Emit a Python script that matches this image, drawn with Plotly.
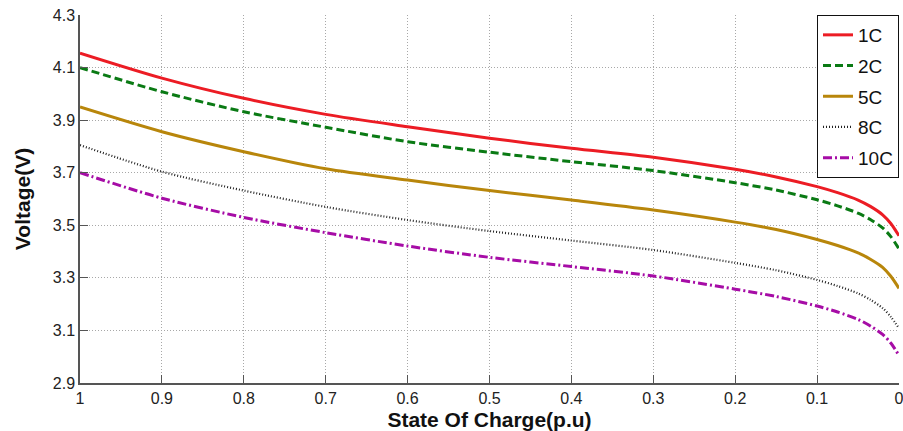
import plotly.graph_objects as go

# State of charge sample points (p.u.), discharging from full (1) to empty (0)
soc = [1.0, 0.9, 0.8, 0.7, 0.6, 0.5, 0.4, 0.3, 0.2, 0.15, 0.1, 0.075, 0.05, 0.035, 0.02, 0.01, 0.0]

# Terminal voltage (V) for each discharge rate
v_1c = [4.155, 4.06, 3.983, 3.922, 3.875, 3.831, 3.793, 3.759, 3.713, 3.684, 3.647, 3.624, 3.596, 3.572, 3.54, 3.507, 3.46]
v_2c = [4.10, 4.008, 3.932, 3.873, 3.818, 3.778, 3.742, 3.708, 3.662, 3.634, 3.597, 3.574, 3.546, 3.522, 3.49, 3.457, 3.41]
v_5c = [3.95, 3.856, 3.78, 3.715, 3.672, 3.632, 3.596, 3.558, 3.512, 3.484, 3.446, 3.423, 3.395, 3.371, 3.34, 3.306, 3.26]
v_8c = [3.805, 3.704, 3.632, 3.57, 3.52, 3.478, 3.442, 3.406, 3.357, 3.329, 3.292, 3.269, 3.241, 3.217, 3.185, 3.152, 3.108]
v_10c = [3.70, 3.603, 3.53, 3.472, 3.421, 3.378, 3.343, 3.307, 3.257, 3.229, 3.193, 3.17, 3.142, 3.117, 3.085, 3.052, 3.005]

series_names = ["1C", "2C", "5C", "8C", "10C"]
series_values = [v_1c, v_2c, v_5c, v_8c, v_10c]
series_colors = ["#ec1c24", "#0a7a14", "#b8860b", "#222222", "#a60ca6"]
series_dash = ["solid", "8px,4px", "solid", "1px,2px", "9px,3px,2px,3px"]
series_width = [3, 3, 3, 2.2, 3]

y_ticks = [2.9, 3.1, 3.3, 3.5, 3.7, 3.9, 4.1, 4.3]
x_ticks = [1, 0.9, 0.8, 0.7, 0.6, 0.5, 0.4, 0.3, 0.2, 0.1, 0]

fig = go.Figure()
for name, vals, color, dash, width in zip(series_names, series_values,
                                         series_colors, series_dash, series_width):
    fig.add_trace(go.Scatter(
        x=soc, y=vals, name=name, mode="lines", legendgroup=name,
        line=dict(color=color, dash=dash, width=width, shape="spline", smoothing=0.8),
    ))

base_family = "Liberation Sans, Arial, sans-serif"
axis_font = dict(family=base_family, size=16, color="#222222")
title_font = dict(family=base_family, size=21, color="#111111")
grid_style = dict(showgrid=True, gridcolor="#a8a8a8", griddash="1px,2px", gridwidth=1,
                  showline=True, linecolor="#555555", linewidth=1.5,
                  ticks="inside", ticklen=8, tickcolor="#555555",
                  tickfont=axis_font, zeroline=False, ticklabeloverflow="allow",
                  automargin=False)

fig.update_layout(
    width=903, height=431,
    margin=dict(l=80, r=4, t=15, b=48),
    paper_bgcolor="white",
    plot_bgcolor="white",
    showlegend=True,
    legend=dict(
        x=1, xanchor="right", y=1, yanchor="top",
        bgcolor="white", bordercolor="#111111", borderwidth=1,
        font=dict(family=base_family, size=19, color="#111111"),
        tracegroupgap=3, itemwidth=30,
    ),
    xaxis=dict(
        range=[1, 0], tickvals=x_ticks,
        ticktext=[("%g" % t) for t in x_ticks],
        title=dict(text="<b>State Of Charge(p.u)</b>", font=title_font, standoff=6),
        **grid_style,
    ),
    yaxis=dict(
        range=[2.9, 4.3], tickvals=y_ticks,
        ticktext=[("%.1f" % t) for t in y_ticks],
        title=dict(text="<b>Voltage(V)</b>", font=title_font, standoff=16),
        **grid_style,
    ),
)

fig.write_html("out.html")
